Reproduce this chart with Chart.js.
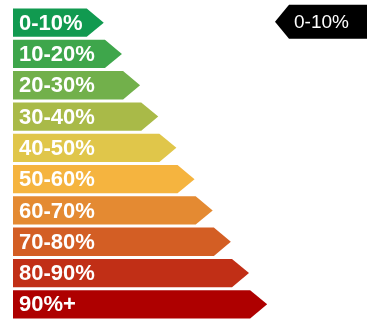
<!DOCTYPE html>
<html>
<head>
<meta charset="utf-8">
<script src="https://cdn.jsdelivr.net/npm/chart.js@4/dist/chart.umd.min.js"></script>
<style>
    html, body { margin: 0; padding: 0; background: #fff; }
    #chart { display: block; }
</style>
</head>
<body>
<canvas id="chart" width="367" height="320"></canvas>
<script>
// rating bands, top to bottom
const bands = ['0-10%', '10-20%', '20-30%', '30-40%', '40-50%', '50-60%', '60-70%', '70-80%', '80-90%', '90%+'];
// arrow length of each band (arbitrary units, tip position)
const barLengths = [5, 6, 7, 8, 9, 10, 11, 12, 13, 14];
const bandColors = ['#119a50', '#3ea64b', '#72b04b', '#a9ba48', '#e0c64a', '#f5b43f', '#e48a32', '#d35e24', '#c12f16', '#ae0000'];
// band shown in the label box at top right
const highlighted = '0-10%';

// draws each bar as an arrow, with its label inside
const arrowBars = {
    id: 'arrowBars',
    beforeDatasetDraw(chart, args) {
        const ctx = chart.ctx;
        const meta = args.meta;
        meta.data.forEach((bar, i) => {
            const p = bar.getProps(['x', 'y', 'base', 'height'], true);
            const top = p.y - p.height / 2;
            const bottom = p.y + p.height / 2;
            const tip = 17;
            ctx.save();
            ctx.fillStyle = bandColors[i];
            ctx.beginPath();
            ctx.moveTo(p.base, top);
            ctx.lineTo(p.x - tip, top);
            ctx.lineTo(p.x, p.y);
            ctx.lineTo(p.x - tip, bottom);
            ctx.lineTo(p.base, bottom);
            ctx.closePath();
            ctx.fill();

            ctx.fillStyle = '#ffffff';
            ctx.font = 'bold 22px "Liberation Sans", Arial, sans-serif';
            ctx.textBaseline = 'middle';
            ctx.textAlign = 'left';
            ctx.fillText(bands[i], p.base + 6, p.y + 1);
            ctx.restore();
        });
        return false;
    },
    afterDatasetsDraw(chart) {
        // black pointer box at the top right
        const ctx = chart.ctx;
        const idx = bands.indexOf(highlighted);
        const bar = chart.getDatasetMeta(0).data[idx];
        const cy = bar.y - 1;
        const right = chart.width;
        const left = 289;
        ctx.save();
        ctx.fillStyle = '#000000';
        ctx.beginPath();
        ctx.moveTo(left, cy - 17);
        ctx.lineTo(right, cy - 17);
        ctx.lineTo(right, cy + 17);
        ctx.lineTo(left, cy + 17);
        ctx.lineTo(left - 14, cy);
        ctx.closePath();
        ctx.fill();
        ctx.fillStyle = '#ffffff';
        ctx.font = '19px "Liberation Sans", Arial, sans-serif';
        ctx.textBaseline = 'middle';
        ctx.textAlign = 'left';
        ctx.fillText(highlighted, 294, cy + 1);
        ctx.restore();
    }
};

new Chart(document.getElementById('chart'), {
    type: 'bar',
    data: {
        labels: bands,
        datasets: [{
            data: barLengths,
            backgroundColor: bandColors,
            categoryPercentage: 1,
            barPercentage: 0.905
        }]
    },
    options: {
        indexAxis: 'y',
        responsive: false,
        animation: false,
        layout: { padding: { left: 13, right: 0, top: 7, bottom: -2 } },
        plugins: {
            legend: { display: false },
            tooltip: { enabled: false }
        },
        scales: {
            x: { type: 'linear', min: 0, max: 19.5, display: false },
            y: { display: false }
        }
    },
    plugins: [arrowBars]
});
</script>
</body>
</html>
